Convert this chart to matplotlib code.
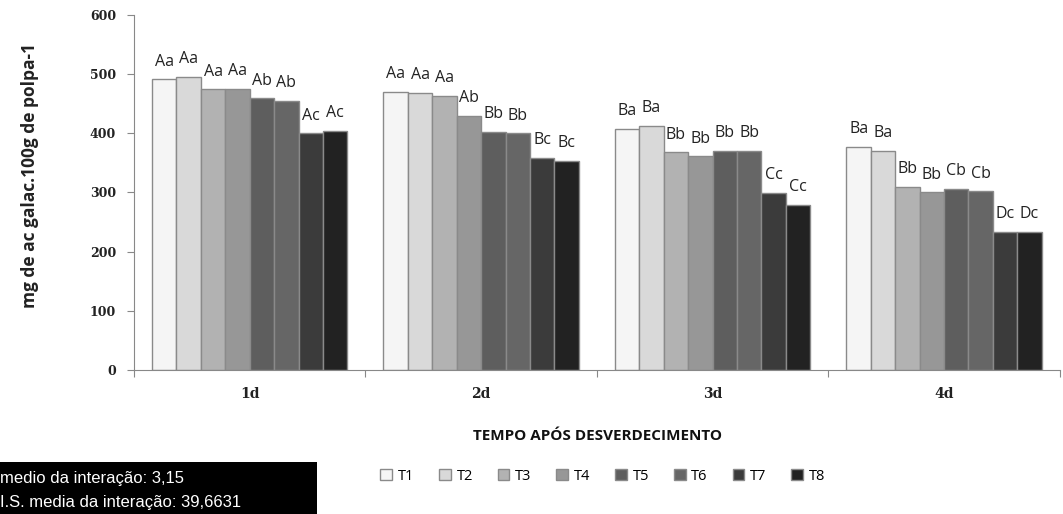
import matplotlib.pyplot as plt
from matplotlib.patches import Rectangle
import numpy as np

dias = ['1d', '2d', '3d', '4d']
tratamentos = ['T1', 'T2', 'T3', 'T4', 'T5', 'T6', 'T7', 'T8']

# mg de ac. galacturonico por tratamento (uma lista por tratamento, dias 1 a 4)
T1 = [491, 470, 408, 377]
T2 = [495, 468, 413, 370]
T3 = [474, 463, 368, 310]
T4 = [475, 430, 361, 300]
T5 = [459, 402, 370, 306]
T6 = [455, 400, 370, 302]
T7 = [400, 359, 299, 234]
T8 = [404, 354, 279, 234]
valores = [T1, T2, T3, T4, T5, T6, T7, T8]

# letras do teste de medias
L1 = ['Aa', 'Aa', 'Ba', 'Ba']
L2 = ['Aa', 'Aa', 'Ba', 'Ba']
L3 = ['Aa', 'Aa', 'Bb', 'Bb']
L4 = ['Aa', 'Ab', 'Bb', 'Bb']
L5 = ['Ab', 'Bb', 'Bb', 'Cb']
L6 = ['Ab', 'Bb', 'Bb', 'Cb']
L7 = ['Ac', 'Bc', 'Cc', 'Dc']
L8 = ['Ac', 'Bc', 'Cc', 'Dc']
letras = [L1, L2, L3, L4, L5, L6, L7, L8]

cores = ['#f5f5f5', '#d9d9d9', '#b2b2b2', '#979797',
         '#5e5e5e', '#666666', '#3b3b3b', '#222222']

fig = plt.figure(figsize=(10.63, 5.14), dpi=100)
ax = fig.add_axes([0.126, 0.280, 0.871, 0.691])

x = np.arange(len(dias))
w = 0.1055
for j, (vals, lets) in enumerate(zip(valores, letras)):
    pos = x + (j - 3.5) * w
    ax.bar(pos, vals, width=w, color=cores[j], edgecolor='#8a8a8a',
           linewidth=1.0, label=tratamentos[j])
    for xi, v, t in zip(pos, vals, lets):
        ax.annotate(t, (xi, v), xytext=(0, 7), textcoords='offset points',
                    ha='center', va='bottom', fontsize=11.5,
                    family='Open Sans', color='#222222')

ax.set_xlim(-0.5, 3.5)
ax.set_ylim(0, 600)
ax.set_yticks(range(0, 601, 100))
ax.set_xticks(np.arange(-0.5, 4, 1))
ax.set_xticklabels([])
ax.set_xticks(x, minor=True)
ax.set_xticklabels(dias, minor=True, fontsize=10, fontweight='bold',
                   family='DejaVu Serif', color='#222222')
ax.tick_params(axis='x', which='minor', length=0, pad=12)
ax.tick_params(axis='x', which='major', length=5, color='#888888', direction='out')
ax.tick_params(axis='y', length=5, color='#888888', pad=8)
for lab in ax.get_yticklabels():
    lab.set_fontfamily('DejaVu Serif')
    lab.set_fontweight('bold')
    lab.set_fontsize(9)
    lab.set_color('#222222')

for s in ['top', 'right']:
    ax.spines[s].set_visible(False)
for s in ['left', 'bottom']:
    ax.spines[s].set_color('#888888')

fig.text(0.028, 1 - 175 / 514, 'mg de ac galac.100g de polpa-1', rotation=90,
         ha='center', va='center', fontsize=12.5, fontweight='bold',
         family='Open Sans', color='#222222')
fig.text(0.562, 1 - 436 / 514, 'TEMPO APÓS DESVERDECIMENTO', ha='center',
         va='center', fontsize=11, fontweight='bold', family='Open Sans',
         color='#111111')

fig.legend(loc='center', bbox_to_anchor=(0.567, 1 - 476 / 514), ncol=8,
           frameon=False, handlelength=0.8, handleheight=0.8,
           handletextpad=0.4, columnspacing=1.7,
           prop={'family': 'Open Sans', 'size': 10.5})

# caixa com as estatisticas da interacao
fig.patches.append(Rectangle((0, 0), 317 / 1063, 52 / 514, transform=fig.transFigure,
                             facecolor='black', edgecolor='none'))
fig.text(0.0, 1 - 479 / 514, 'medio da interação: 3,15', ha='left', va='center',
         fontsize=12, family='Liberation Sans', color='white')
fig.text(0.0, 1 - 502 / 514, 'I.S. media da interação: 39,6631', ha='left',
         va='center', fontsize=12, family='Liberation Sans', color='white')

fig.savefig('out.png', dpi=100)
